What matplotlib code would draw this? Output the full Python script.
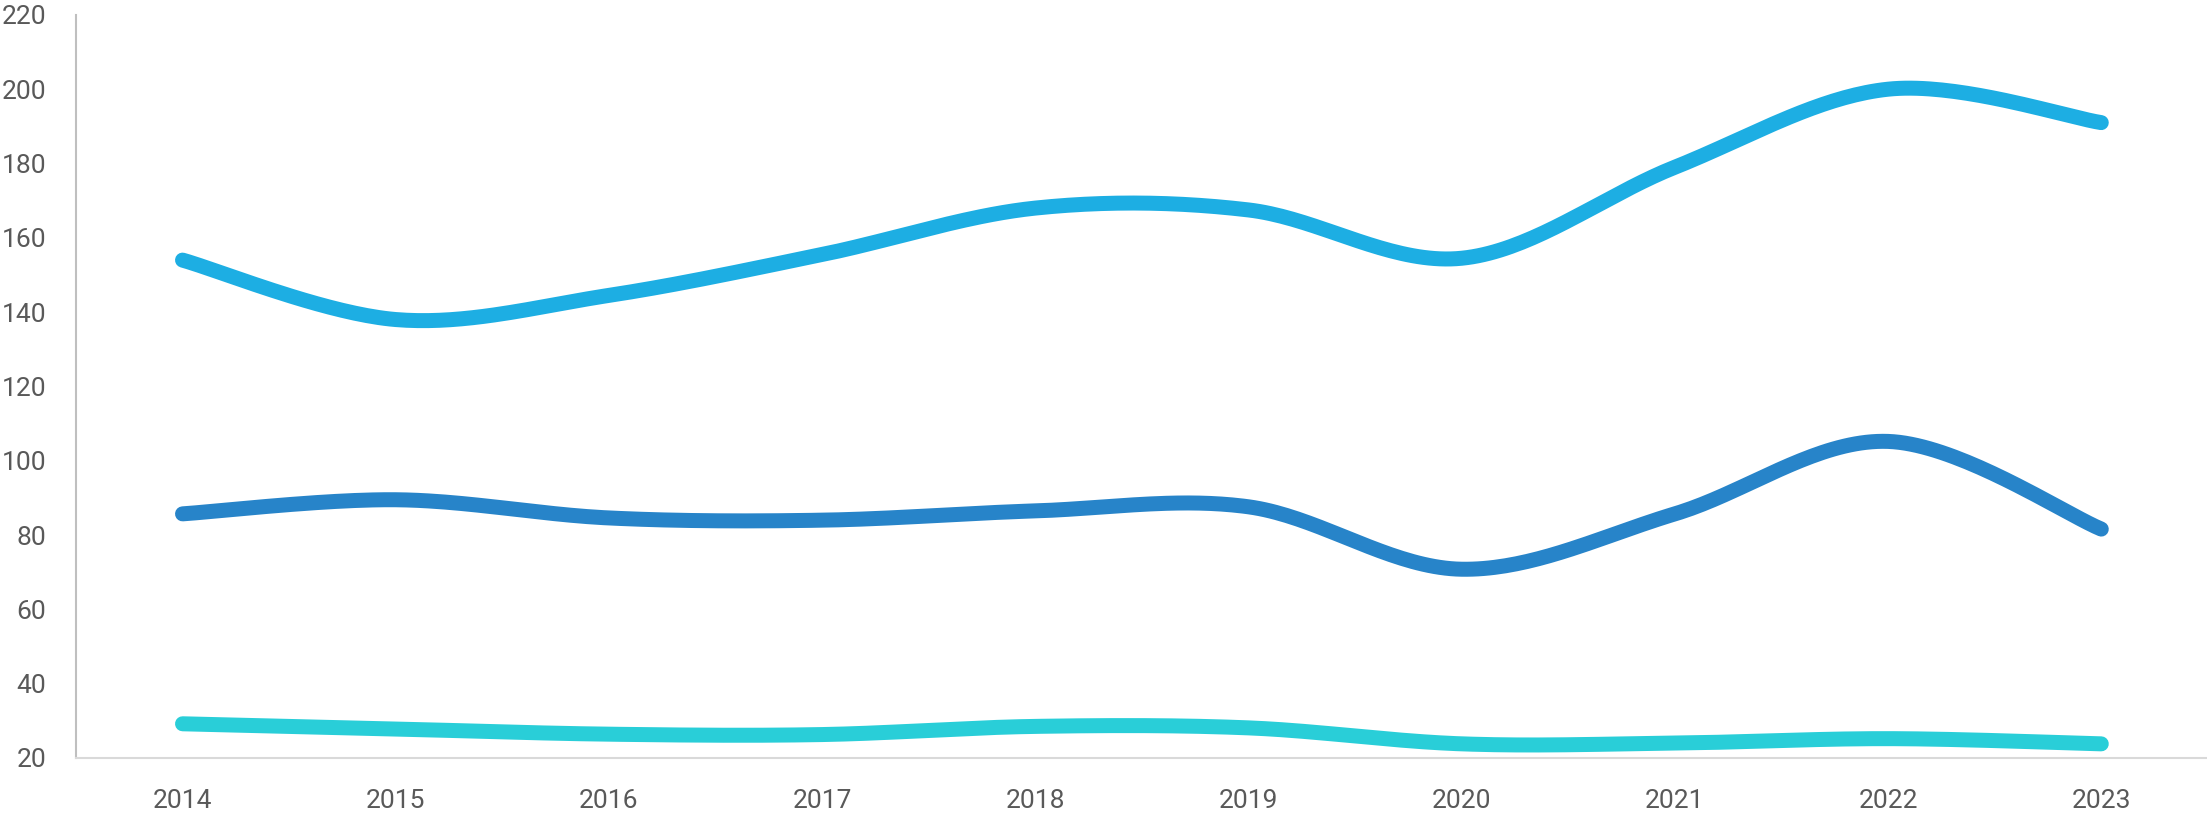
import numpy as np
import matplotlib.pyplot as plt

# Data
years = ['2014', '2015', '2016', '2017', '2018', '2019', '2020', '2021', '2022', '2023']
top_series = [154, 138, 144.5, 155.5, 168, 167.5, 154.5, 179, 200, 191]
mid_series = [85.7, 89.5, 84.6, 84.0, 86.5, 87.6, 70.8, 85.7, 105.2, 81.6]
low_series = [29.2, 27.8, 26.4, 26.3, 28.5, 28.1, 23.8, 24.0, 25.2, 23.8]

colors = ['#1DAEE3', '#2784C9', '#29CED8']


# Excel-style smoothed line: cubic Bezier through the points
def smooth(y, n=40):
    x = np.arange(len(y), dtype=float)
    y = np.asarray(y, dtype=float)
    px = np.concatenate([[x[0]], x, [x[-1]]])
    py = np.concatenate([[y[0]], y, [y[-1]]])
    xs, ys = [], []
    t = np.linspace(0, 1, n)
    for i in range(1, len(px) - 2):
        p0 = np.array([px[i], py[i]])
        p3 = np.array([px[i + 1], py[i + 1]])
        c1 = p0 + (np.array([px[i + 1], py[i + 1]]) - np.array([px[i - 1], py[i - 1]])) / 6
        c2 = p3 - (np.array([px[i + 2], py[i + 2]]) - np.array([px[i], py[i]])) / 6
        b = ((1 - t) ** 3)[:, None] * p0 + (3 * (1 - t) ** 2 * t)[:, None] * c1 \
            + (3 * (1 - t) * t ** 2)[:, None] * c2 + (t ** 3)[:, None] * p3
        xs.append(b[:, 0])
        ys.append(b[:, 1])
    return np.concatenate(xs), np.concatenate(ys)


plt.rcParams['font.family'] = ['Roboto', 'DejaVu Sans']

fig = plt.figure(figsize=(22.07, 8.22), dpi=100)
ax = fig.add_axes([0.0344, 0.0779, 0.966, 0.904])

for series, c in zip([top_series, mid_series, low_series], colors):
    sx, sy = smooth(series)
    ax.plot(sx, sy, color=c, lw=10.8, solid_capstyle='round', solid_joinstyle='round')

ax.set_xlim(-0.5, len(years) - 0.5)
ax.set_ylim(20, 220)
ax.set_yticks(np.arange(20, 221, 20))
ax.set_xticks(np.arange(len(years)))
ax.set_xticklabels(years)

for side in ['top', 'right']:
    ax.spines[side].set_visible(False)
ax.spines['left'].set_color('#BFBFBF')
ax.spines['bottom'].set_color('#D9D9D9')
ax.spines['left'].set_linewidth(1.5)
ax.spines['bottom'].set_linewidth(1.5)

ax.tick_params(axis='both', length=0, labelsize=19, labelcolor='#595959')
ax.tick_params(axis='y', pad=21.5)
ax.tick_params(axis='x', pad=22)

fig.savefig('out.png', dpi=100)
